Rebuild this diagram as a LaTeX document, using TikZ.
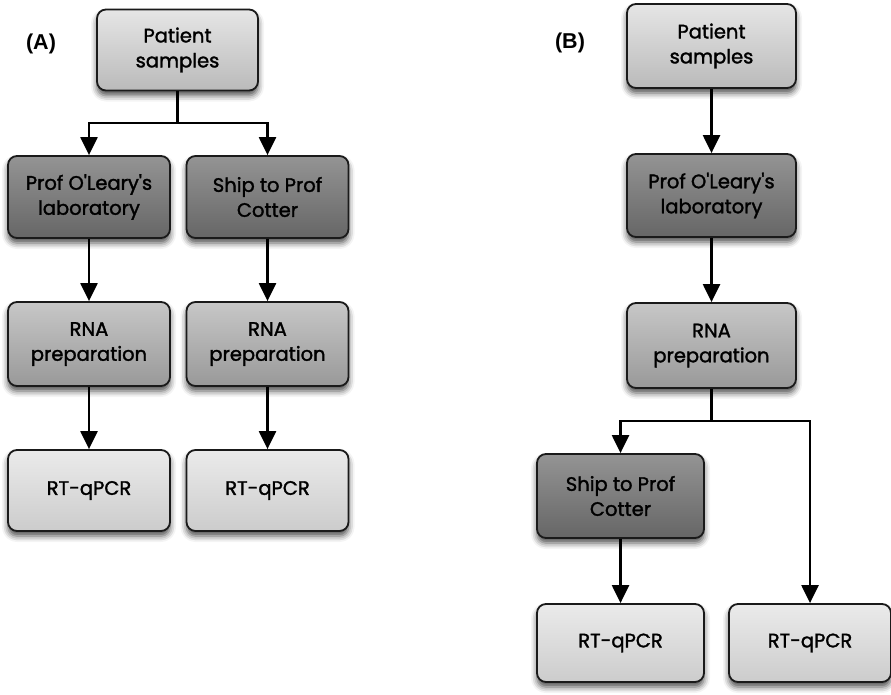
\documentclass[tikz,border=0pt]{standalone}
\usepackage{fontspec}
\newfontfamily\labelfont{Liberation Sans}
\newfontfamily\boxfont{Poppins}[FakeBold=1.6]
\usetikzlibrary{arrows.meta,shadows.blur}
\definecolor{boxline}{HTML}{1A1A1A}
\tikzset{
  box/.style={draw=boxline, line width=1.8pt, rounded corners=9pt,
    align=center, font=\boxfont\fontsize{19.5}{25}\selectfont, text=black,
    blur shadow={shadow xshift=0pt, shadow yshift=-5pt, shadow blur radius=6pt, shadow opacity=70},
    minimum width=162pt, minimum height=82pt, inner sep=2pt},
  patient/.style={box, top color=black!10, bottom color=black!27},
  lab/.style={box, top color=black!42, bottom color=black!60},
  rna/.style={box, top color=black!22, bottom color=black!40},
  pcr/.style={box, top color=black!8, bottom color=black!20},
  flow/.style={line width=2.3pt, draw=black, -{Triangle[length=18pt,width=17pt]}},
  plain/.style={line width=2.3pt, draw=black},
  panel/.style={font=\labelfont\bfseries\fontsize{21.5}{24}\selectfont}
}
\begin{document}
\begin{tikzpicture}[x=1pt,y=-1pt]
\useasboundingbox (0,0) rectangle (891,694);

% ---- panel A: samples split before RNA preparation ----
\node[panel] (labA) at (41,44) {(A)};
\node[patient, minimum width=161pt, minimum height=81pt] (pa) at (177.5,50) {Patient\\samples};
\node[lab] (la) at (89,197) {Prof O'Leary's\\laboratory};
\node[lab] (sa) at (267.5,197) {Ship to Prof\\Cotter};
\node[rna, minimum height=84pt] (ra1) at (89,344) {RNA\\preparation};
\node[rna, minimum height=84pt] (ra2) at (267.5,344) {RNA\\preparation};
\node[pcr, minimum height=81pt] (qa1) at (89,490.5) {RT-qPCR};
\node[pcr, minimum height=81pt] (qa2) at (267.5,490.5) {RT-qPCR};

\coordinate (fa) at (177.5,123);
\draw[plain] (pa.south) -- (fa);
\draw[flow] (fa) -| (la.north);
\draw[flow] (fa) -| (sa.north);
\draw[flow] (la) -- (ra1);
\draw[flow] (sa) -- (ra2);
\draw[flow] (ra1) -- (qa1);
\draw[flow] (ra2) -- (qa2);

% ---- panel B: split after RNA preparation ----
\node[panel] (labB) at (570,43) {(B)};
\node[patient, minimum width=169pt, minimum height=84pt] (pb) at (711.5,46) {Patient\\samples};
\node[lab, minimum width=169pt, minimum height=83pt] (lb) at (711.5,195.5) {Prof O'Leary's\\laboratory};
\node[rna, minimum width=169pt, minimum height=85pt] (rb) at (711.5,345.5) {RNA\\preparation};
\node[lab, minimum width=167pt, minimum height=84pt] (sb) at (620.5,496) {Ship to Prof\\Cotter};
\node[pcr, minimum width=167pt, minimum height=78pt] (qb1) at (620.5,643) {RT-qPCR};
\node[pcr, minimum width=162pt, minimum height=78pt] (qb2) at (810,643) {RT-qPCR};

\coordinate (fb) at (711.5,421);
\draw[flow] (pb) -- (lb);
\draw[flow] (lb) -- (rb);
\draw[plain] (rb.south) -- (fb);
\draw[flow] (fb) -| (sb.north);
\draw[flow] (fb) -| (qb2.north);
\draw[flow] (sb) -- (qb1);
\end{tikzpicture}
\end{document}
